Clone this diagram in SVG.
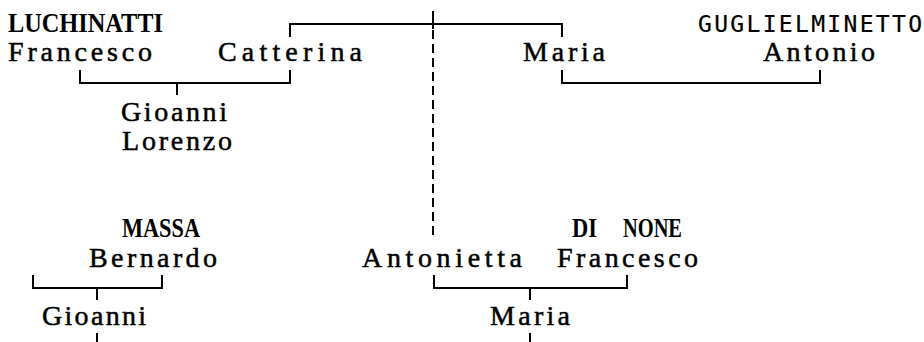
<svg xmlns="http://www.w3.org/2000/svg" width="924" height="342" viewBox="0 0 924 342">
<style>
text{font-family:"Liberation Serif","Times New Roman",serif;font-size:28px;fill:#000;stroke:#000;stroke-width:0.5;}
.cap{font-weight:bold;stroke-width:0;}
.sans{font-family:"DejaVu Sans Mono",monospace;font-size:23px;stroke-width:0.2;}
.ln{fill:none;stroke:#000;stroke-width:2;}
.dash{stroke-dasharray:9 5;}
</style>
<rect width="924" height="342" fill="#fff"/>
<g id="connectors">
<path class="ln" d="M290 37V24H562V37"/>
<path class="ln" d="M433 11V29"/>
<path class="ln dash" d="M433 30V240"/>
<path class="ln" d="M80 70V83H290V70M177 83V95"/>
<path class="ln" d="M562 70V83H820V70"/>
<path class="ln" d="M33 275V288H162V275M97 288V300M97 333V342"/>
<path class="ln" d="M434 275V288H627V275M530 288V300M530 333V342"/>
</g>
<g id="luchinatti-francesco">
<text class="cap" x="8" y="32" textLength="155" lengthAdjust="spacingAndGlyphs">LUCHINATTI</text>
<text x="8" y="61" textLength="144" lengthAdjust="spacing">Francesco</text>
</g>
<g id="catterina"><text x="218" y="61" textLength="144" lengthAdjust="spacing">Catterina</text></g>
<g id="maria-top"><text x="523" y="61" textLength="82" lengthAdjust="spacing">Maria</text></g>
<g id="guglielminetto-antonio">
<text class="sans" x="698" y="32" textLength="224" lengthAdjust="spacing">GUGLIELMINETTO</text>
<text x="763" y="61" textLength="112" lengthAdjust="spacing">Antonio</text>
</g>
<g id="gioanni-lorenzo">
<text x="121" y="121" textLength="106" lengthAdjust="spacing">Gioanni</text>
<text x="122" y="150" textLength="110" lengthAdjust="spacing">Lorenzo</text>
</g>
<g id="massa-bernardo">
<text class="cap" x="122" y="237" textLength="78" lengthAdjust="spacingAndGlyphs">MASSA</text>
<text x="89" y="267" textLength="128" lengthAdjust="spacing">Bernardo</text>
</g>
<g id="gioanni-bottom"><text x="42" y="325" textLength="104" lengthAdjust="spacing">Gioanni</text></g>
<g id="antonietta"><text x="362" y="267" textLength="160" lengthAdjust="spacing">Antonietta</text></g>
<g id="dinone-francesco">
<text class="cap" y="237"><tspan x="572" textLength="25" lengthAdjust="spacingAndGlyphs">DI</tspan> <tspan x="623" textLength="59" lengthAdjust="spacingAndGlyphs">NONE</tspan></text>
<text x="557" y="267" textLength="141" lengthAdjust="spacing">Francesco</text>
</g>
<g id="maria-bottom"><text x="490" y="325" textLength="80" lengthAdjust="spacing">Maria</text></g>
</svg>
